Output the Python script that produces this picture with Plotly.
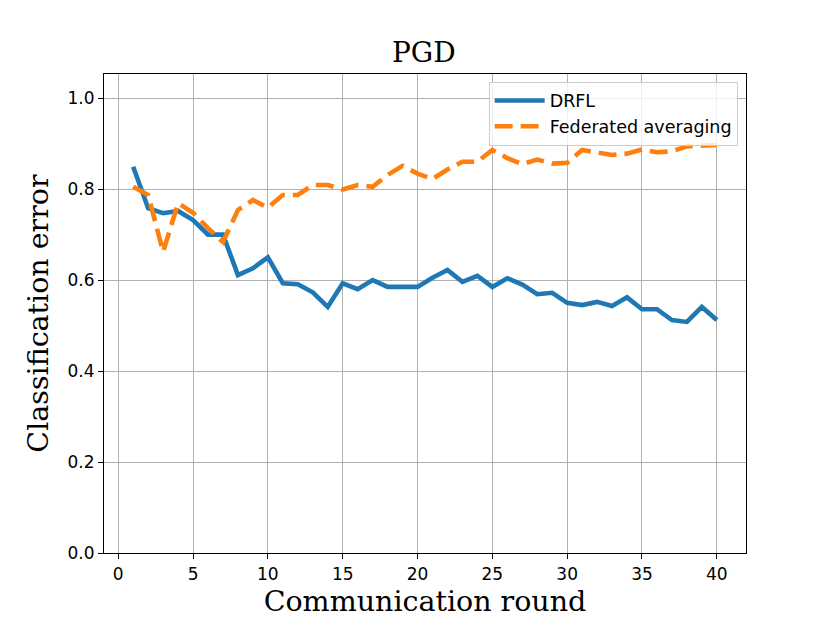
import plotly.graph_objects as go

rounds = list(range(1, 41))

drfl = [0.849, 0.758, 0.747, 0.752, 0.732, 0.700, 0.700, 0.611, 0.626, 0.650,
        0.593, 0.591, 0.573, 0.541, 0.593, 0.580, 0.600, 0.585, 0.585, 0.585,
        0.605, 0.622, 0.596, 0.609, 0.585, 0.604, 0.590, 0.569, 0.572, 0.550,
        0.545, 0.552, 0.543, 0.562, 0.536, 0.536, 0.512, 0.508, 0.541, 0.512]

fedavg = [0.805, 0.787, 0.662, 0.769, 0.748, 0.714, 0.684, 0.754, 0.776, 0.759,
          0.787, 0.787, 0.809, 0.809, 0.799, 0.809, 0.805, 0.831, 0.851, 0.834,
          0.822, 0.843, 0.860, 0.860, 0.886, 0.868, 0.855, 0.865, 0.856, 0.858,
          0.886, 0.880, 0.875, 0.878, 0.887, 0.881, 0.883, 0.894, 0.896, 0.897]

x_ticks = [0, 5, 10, 15, 20, 25, 30, 35, 40]
y_ticks = [0.0, 0.2, 0.4, 0.6, 0.8, 1.0]

fig = go.Figure()
fig.add_trace(go.Scatter(x=rounds, y=drfl, mode="lines", name="DRFL",
                         line=dict(color="#1f77b4", width=4.6)))
fig.add_trace(go.Scatter(x=rounds, y=fedavg, mode="lines", name="Federated averaging",
                         line=dict(color="#ff7f0e", width=4.6, dash="18px,8px")))

axis_common = dict(showline=True, linecolor="black", linewidth=1.2, mirror=True,
                   ticks="outside", ticklen=5, tickcolor="black",
                   showgrid=True, gridcolor="#b0b0b0", gridwidth=1.2,
                   zeroline=False, automargin=False,
                   tickfont=dict(family="DejaVu Sans", size=17, color="black"))

# page body adds an 8px offset, margins compensate for it
fig.update_layout(
    width=830, height=623,
    margin=dict(l=96, r=92, t=66, b=78),
    paper_bgcolor="white", plot_bgcolor="white",
    title=dict(text="PGD", x=0.501, xanchor="center", y=0.929, yanchor="middle",
               font=dict(family="DejaVu Serif", size=28, color="black")),
    xaxis=dict(axis_common, range=[-0.95, 41.95], tickvals=x_ticks,
               title=dict(text="Communication round", standoff=8,
                          font=dict(family="DejaVu Serif", size=28.5, color="black"))),
    yaxis=dict(axis_common, range=[0, 1.053], tickvals=y_ticks, tickformat=".1f",
               title=dict(text="Classification error", standoff=10,
                          font=dict(family="DejaVu Serif", size=28.5, color="black"))),
    legend=dict(x=0.987, y=0.984, xanchor="right", yanchor="top",
                bgcolor="rgba(255,255,255,0.8)", bordercolor="#cccccc", borderwidth=1,
                font=dict(family="DejaVu Sans", size=17.5, color="black"),
                itemwidth=50, tracegroupgap=0),
    showlegend=True,
)

fig.write_html("out.html")
